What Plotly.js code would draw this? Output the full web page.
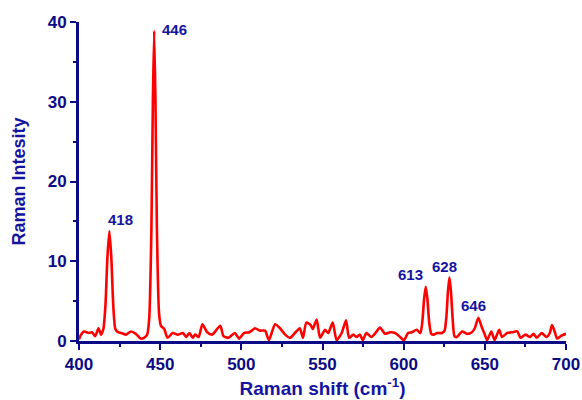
<!DOCTYPE html>
<html>
<head>
<meta charset="utf-8">
<script src="https://cdn.plot.ly/plotly-3.0.1.min.js"></script>
<style>
  html, body { margin: 0; padding: 0; background: #ffffff; }
  #chart { width: 582px; height: 400px; }
</style>
</head>
<body>
<div id="chart"></div>
<script>
// Raman spectrum, 400-700 cm^-1
const shift = [
  400, 401, 403, 406, 408, 410, 412, 413.6, 415, 416.3, 417.5, 418.7, 419.9, 421.1, 422.4, 424,
  426, 429, 432, 435, 438, 440, 442, 443.3, 444.6, 445.5, 446.3, 447.1, 448, 449.3, 450.5, 452.5, 454.6,
  457.7, 460.8, 464, 466, 468, 470, 471.5, 473.7, 476, 479, 482, 487, 489, 492, 496,
  498.6, 501.6, 505, 508.4, 511.5, 514.6, 517, 520.8, 523.8, 527, 530, 533, 536, 538,
  540, 542.7, 544, 546.4, 548.5, 551.6, 553.5, 556.3, 558.7, 561.8, 564.5, 566.4, 569,
  571, 573, 574.8, 577, 580, 583, 585.4, 588.5, 591.6, 594.7, 597.8, 600.2, 602.7, 605,
  608, 610.3, 611.5, 612.6, 613.6, 614.6, 615.7, 617, 618.5, 620.6, 623.6, 625.2, 626.3, 627.3, 628.2, 629.1, 630.1, 631.3,
  632.8, 636, 639, 642, 643.8, 646, 648, 649.8, 651.4, 654, 656, 658.8, 660.6, 663.7,
  666.8, 670, 672, 675, 677.8, 680, 682, 685, 688, 690, 691.4, 693, 694.5, 696.7, 700
];
const intensity = [
  0.2, 0.7, 1.2, 1.0, 1.1, 0.6, 1.6, 0.8, 1.5, 4.5, 10.5, 13.8, 10.5, 4.5, 1.5, 1.1,
  1.0, 0.8, 1.2, 0.9, 0.3, 0.4, 0.8, 3.0, 14.0, 30.0, 38.9, 30.0, 14.0, 3.5, 1.9, 1.5, 0.4,
  1.0, 0.8, 1.0, 0.5, 1.0, 0.4, 0.8, 0.5, 2.1, 1.1, 0.8, 1.9, 0.6, 0.4, 1.0,
  0.3, 1.0, 1.1, 1.6, 1.3, 1.3, 0.1, 2.1, 1.6, 0.8, 0.4, 1.0, 1.6, 0.4,
  2.3, 2.0, 1.5, 2.7, 0.4, 1.4, 1.0, 2.3, 0.1, 1.0, 2.6, 0.4, 0.8,
  0.5, 0.8, 0.1, 1.0, 0.5, 1.1, 1.7, 0.9, 1.1, 1.0, 0.5, 0.1, 1.0, 1.1,
  1.4, 1.0, 2.4, 5.3, 6.8, 5.3, 2.4, 0.9, 0.8, 1.0, 1.0, 1.3, 3.0, 6.3, 8.0, 6.3, 3.0, 0.6,
  0.5, 1.2, 0.9, 1.1, 1.6, 2.9, 1.8, 0.9, 0.1, 1.2, 0.1, 1.4, 0.5, 1.0,
  1.1, 1.2, 0.4, 0.8, 0.5, 0.9, 0.4, 1.0, 0.5, 1.0, 2.0, 1.2, 0.3, 0.6, 0.9
];

// labelled bands
const bandText = ['418', '446', '613', '628', '646'];
const bandLabelX = [425.3, 459, 604, 625, 642.8];
const bandLabelY = [15.2, 39.1, 8.3, 9.3, 4.4];

const ticksX = [400, 450, 500, 550, 600, 650, 700];
const ticksY = [0, 10, 20, 30, 40];

const navy = '#0b0b86';
const labelBlue = '#1414a0';
const fontFamily = 'Liberation Sans, Arial, sans-serif';

const trace = {
  x: shift,
  y: intensity,
  type: 'scatter',
  mode: 'lines',
  line: { color: '#ff0000', width: 2.6, shape: 'spline', smoothing: 0.6 },
  hoverinfo: 'x+y'
};

const annotations = bandText.map((t, i) => ({
  x: bandLabelX[i],
  y: bandLabelY[i],
  xref: 'x',
  yref: 'y',
  text: t,
  showarrow: false,
  xanchor: 'center',
  yanchor: 'middle',
  font: { family: fontFamily, size: 15, weight: 'bold', color: labelBlue }
}));

function axisStyle() {
  return {
    tickfont: { family: fontFamily, size: 17, weight: 'bold', color: navy },
    ticks: 'outside',
    ticklen: 6,
    tickwidth: 2,
    tickcolor: navy,
    showline: true,
    linecolor: navy,
    linewidth: 3,
    showgrid: false,
    zeroline: false
  };
}

const layout = {
  width: 582,
  height: 400,
  margin: { l: 79, r: 16, t: 22, b: 59 },
  paper_bgcolor: '#ffffff',
  plot_bgcolor: '#ffffff',
  showlegend: false,
  font: { family: fontFamily, color: navy },
  xaxis: Object.assign(axisStyle(), {
    range: [400, 700],
    tickvals: ticksX,
    minor: { dtick: 25, ticks: 'outside', ticklen: 3, tickwidth: 2, tickcolor: navy, showgrid: false },
    title: {
      text: 'Raman shift (cm<sup>-1</sup>)',
      font: { family: fontFamily, size: 19, weight: 'bold', color: labelBlue },
      standoff: 9
    }
  }),
  yaxis: Object.assign(axisStyle(), {
    range: [0, 40],
    tickvals: ticksY,
    minor: { dtick: 5, ticks: 'outside', ticklen: 3, tickwidth: 2, tickcolor: navy, showgrid: false },
    title: {
      text: 'Raman Intesity',
      font: { family: fontFamily, size: 18, weight: 'bold', color: labelBlue },
      standoff: 18
    }
  }),
  annotations: annotations
};

Plotly.newPlot('chart', [trace], layout, { displayModeBar: false, staticPlot: true });
</script>
</body>
</html>
